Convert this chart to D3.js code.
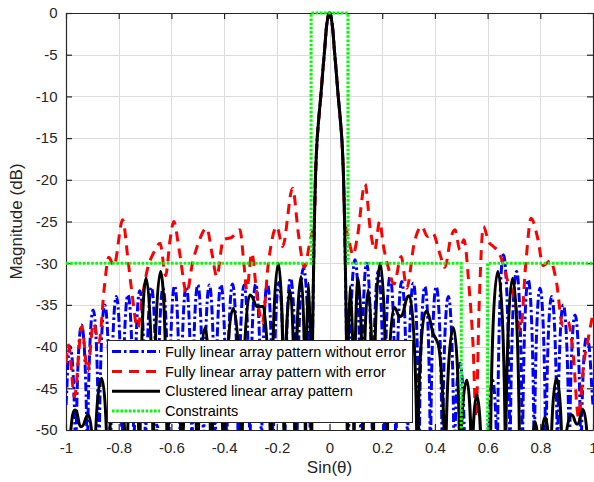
<!DOCTYPE html>
<html>
<head>
<meta charset="utf-8">
<script src="https://cdn.jsdelivr.net/npm/d3@7"></script>
<style>
  html, body { margin: 0; padding: 0; background: #fff; }
  svg { display: block; font-family: "Liberation Sans", Arial, Helvetica, sans-serif; }
</style>
</head>
<body>
<svg id="chart" width="594" height="482"></svg>
<script>
// ---------- axis ticks ----------
const xTicks = [-1, -0.8, -0.6, -0.4, -0.2, 0, 0.2, 0.4, 0.6, 0.8, 1];
const xTickLabels = ["-1", "-0.8", "-0.6", "-0.4", "-0.2", "0", "0.2", "0.4", "0.6", "0.8", "1"];
const yTicks = [0, -5, -10, -15, -20, -25, -30, -35, -40, -45, -50];
const yTickLabels = ["0", "-5", "-10", "-15", "-20", "-25", "-30", "-35", "-40", "-45", "-50"];

// ---------- series: [sin(theta), magnitude in dB] ----------
// main lobe shared by the patterns
const mainBeam = [
  [-0.063, -36], [-0.060, -30], [-0.057, -24.5], [-0.053, -19.5], [-0.047, -15.2],
  [-0.040, -12.4], [-0.032, -9.6], [-0.026, -7.2], [-0.019, -4.6], [-0.010, -1.3],
  [0, 0], [0.010, -1.3], [0.019, -4.6], [0.026, -7.2], [0.032, -9.6], [0.040, -12.4],
  [0.047, -15.2], [0.053, -19.5], [0.057, -24.5], [0.060, -30], [0.063, -36]
];

// fully linear array, no error
const blueLeft = [
  [-1.000, -47], [-0.985, -40.0], [-0.963, -60], [-0.941, -37.4], [-0.919, -60], [-0.897, -35.6],
  [-0.875, -60], [-0.853, -35.0], [-0.831, -60], [-0.809, -34.0], [-0.787, -60], [-0.765, -33.8],
  [-0.742, -60], [-0.720, -33.3], [-0.698, -60], [-0.676, -32.9], [-0.654, -60], [-0.632, -33.0],
  [-0.610, -60], [-0.588, -32.7], [-0.566, -60], [-0.544, -32.8], [-0.522, -60], [-0.500, -32.6],
  [-0.478, -60], [-0.456, -32.6], [-0.434, -60], [-0.412, -32.6], [-0.390, -60], [-0.368, -32.5],
  [-0.346, -60], [-0.324, -32.6], [-0.302, -60], [-0.280, -32.5], [-0.258, -60], [-0.236, -32.4],
  [-0.214, -60], [-0.192, -32.3], [-0.170, -60], [-0.148, -31.8], [-0.124, -60], [-0.099, -30.6],
  [-0.072, -60]
];
const blueRight = [
  [0.072, -60], [0.097, -29.6], [0.119, -60], [0.141, -30.0], [0.163, -60], [0.185, -31.0],
  [0.207, -60], [0.230, -31.6], [0.252, -60], [0.274, -32.2], [0.296, -60], [0.318, -32.4],
  [0.340, -60], [0.362, -32.8], [0.383, -60], [0.405, -32.8], [0.428, -60], [0.451, -34.0],
  [0.473, -60], [0.495, -42.0], [0.517, -66], [0.540, -58], [0.562, -66], [0.585, -58],
  [0.600, -66], [0.618, -44], [0.637, -60], [0.660, -29.0], [0.685, -60], [0.710, -31.0],
  [0.732, -60], [0.754, -32.0], [0.777, -60], [0.799, -33.0], [0.821, -60], [0.843, -34.0],
  [0.865, -60], [0.887, -35.0], [0.910, -60], [0.932, -36.2], [0.954, -60], [0.976, -38.8],
  [1.000, -47]
];

// fully linear array with error
const redLeft = [
  [-1.000, -42.0], [-0.990, -39.8], [-0.968, -46.0], [-0.940, -37.6], [-0.918, -43.0], [-0.896, -37.2],
  [-0.875, -39.5], [-0.855, -33.0], [-0.838, -29.3], [-0.818, -30.3], [-0.785, -24.8], [-0.765, -29.5],
  [-0.750, -33.5], [-0.728, -37.8], [-0.710, -34.0], [-0.693, -31.0], [-0.665, -28.6], [-0.643, -27.6],
  [-0.622, -31.5], [-0.605, -27.2], [-0.591, -25.0], [-0.570, -28.5], [-0.542, -33.6], [-0.520, -30.0],
  [-0.498, -27.6], [-0.466, -25.8], [-0.445, -29.0], [-0.428, -31.6], [-0.403, -27.2], [-0.371, -26.9],
  [-0.340, -26.0], [-0.325, -30.0], [-0.314, -33.2], [-0.295, -28.8], [-0.275, -34.0], [-0.255, -37.2],
  [-0.232, -30.0], [-0.200, -25.6], [-0.178, -28.0], [-0.140, -21.0], [-0.118, -26.5], [-0.095, -30.5],
  [-0.075, -27.5]
];
const redRight = [
  [0.072, -27.0], [0.090, -29.0], [0.105, -27.0], [0.135, -20.5], [0.155, -26.0], [0.172, -28.4],
  [0.190, -25.0], [0.205, -28.0], [0.223, -30.5], [0.245, -32.5], [0.272, -29.2], [0.293, -33.0],
  [0.322, -27.5], [0.350, -25.6], [0.372, -26.8], [0.392, -26.4], [0.418, -28.8], [0.438, -30.5],
  [0.460, -27.0], [0.476, -26.0], [0.495, -28.4], [0.510, -27.2], [0.530, -33.0], [0.545, -40.0],
  [0.556, -48.5], [0.568, -35.0], [0.584, -25.6], [0.605, -27.5], [0.622, -28.0], [0.640, -28.6],
  [0.653, -29.5], [0.675, -32.0], [0.700, -34.0], [0.725, -38.0], [0.745, -30.0], [0.765, -24.6],
  [0.790, -27.0], [0.811, -30.3], [0.838, -29.7], [0.862, -32.4], [0.885, -37.5], [0.905, -37.0],
  [0.925, -41.0], [0.945, -48.5], [0.965, -42.0], [0.982, -39.0], [1.000, -36.0]
];

// clustered linear array
const blackLeft = [
  [-1.000, -60], [-0.985, -51], [-0.966, -47.6], [-0.942, -49.6], [-0.915, -48.2], [-0.893, -60],
  [-0.865, -43.8], [-0.842, -60], [-0.805, -44], [-0.770, -60], [-0.745, -42], [-0.720, -60],
  [-0.696, -31.8], [-0.669, -60], [-0.641, -31.0], [-0.616, -60], [-0.590, -41], [-0.560, -60],
  [-0.530, -42], [-0.500, -60], [-0.472, -37.7], [-0.450, -60], [-0.425, -44], [-0.400, -60],
  [-0.365, -35.4], [-0.333, -60], [-0.302, -33.8], [-0.276, -35.2], [-0.251, -35.2], [-0.222, -60],
  [-0.194, -30.0], [-0.172, -60], [-0.150, -33.2], [-0.131, -60], [-0.108, -31.6], [-0.091, -60],
  [-0.080, -32.4], [-0.068, -60]
];
const blackRight = [
  [0.068, -60], [0.078, -32.8], [0.093, -60], [0.109, -31.8], [0.127, -60], [0.147, -33.2],
  [0.166, -60], [0.192, -30.0], [0.218, -60], [0.245, -35.3], [0.268, -36.4], [0.303, -33.9],
  [0.333, -60], [0.365, -35.8], [0.394, -38.5], [0.413, -39.8], [0.440, -60], [0.470, -37.7],
  [0.495, -60], [0.521, -44.0], [0.540, -60], [0.559, -45.8], [0.578, -60], [0.596, -56],
  [0.610, -60], [0.639, -31.0], [0.668, -60], [0.695, -31.8], [0.722, -60], [0.750, -56],
  [0.765, -60], [0.780, -49.0], [0.798, -60], [0.818, -48.4], [0.838, -60], [0.862, -43.8],
  [0.884, -60], [0.919, -48.2], [0.940, -49.3], [0.963, -47.6], [0.985, -60], [1.000, -56]
];

// side-lobe / main-lobe mask
const constraint = [
  [-1, -30], [-0.07, -30], [-0.07, 0], [0.07, 0], [0.07, -30], [0.5, -30], [0.5, -60],
  [0.6, -60], [0.6, -30], [1, -30]
];

const legendLabels = [
  "Fully linear array pattern without error",
  "Fully linear array pattern with error",
  "Clustered linear array pattern",
  "Constraints"
];

// ---------- layout ----------
const L = 66, R = 593, T = 13, B = 430;
const axisColor = "#262626";

const svg = d3.select("#chart");
const x = d3.scaleLinear().domain([-1, 1]).range([L, R]);
const y = d3.scaleLinear().domain([-50, 0]).range([B, T]);

// Curve for array-factor lobes: round tops at local maxima, vertical
// cusps at nulls that fall below the axis floor, monotone elsewhere.
function lobeCurve(context) {
  let pts = [];
  const K = 0.55;
  const floorPx = y(-50);
  return {
    areaStart() {}, areaEnd() {},
    lineStart() { pts = []; },
    point(px, py) { pts.push([+px, +py]); },
    lineEnd() {
      const n = pts.length;
      if (!n) return;
      const kind = [], slope = [];
      for (let i = 0; i < n; i++) {
        const p = pts[i], a = pts[i - 1], b = pts[i + 1];
        if (!a || !b) {
          const q = a || b;
          kind.push("slope");
          slope.push(q ? (p[1] - q[1]) / (p[0] - q[0]) : 0);
          continue;
        }
        const s0 = (p[1] - a[1]) / (p[0] - a[0]);
        const s1 = (b[1] - p[1]) / (b[0] - p[0]);
        if (p[1] < a[1] && p[1] < b[1]) { kind.push("flat"); slope.push(0); }
        else if (p[1] > a[1] && p[1] > b[1]) { kind.push(p[1] > floorPx ? "cusp" : "flat"); slope.push(0); }
        else { kind.push("slope"); slope.push(s0 * s1 <= 0 ? 0 : 2 * s0 * s1 / (s0 + s1)); }
      }
      context.moveTo(pts[0][0], pts[0][1]);
      for (let i = 0; i < n - 1; i++) {
        const a = pts[i], b = pts[i + 1];
        const dx = b[0] - a[0], dy = b[1] - a[1];
        let c1, c2;
        if (kind[i] === "flat") c1 = [a[0] + K * dx, a[1]];
        else if (kind[i] === "cusp") c1 = [a[0], a[1] + K * dy];
        else c1 = [a[0] + dx / 3, a[1] + slope[i] * dx / 3];
        if (kind[i + 1] === "flat") c2 = [b[0] - K * dx, b[1]];
        else if (kind[i + 1] === "cusp") c2 = [b[0], b[1] - K * dy];
        else c2 = [b[0] - dx / 3, b[1] - slope[i + 1] * dx / 3];
        context.bezierCurveTo(c1[0], c1[1], c2[0], c2[1], b[0], b[1]);
      }
    }
  };
}

// grid
const grid = svg.append("g").attr("stroke", "#dcdcdc").attr("stroke-width", 1);
grid.selectAll("line.gx").data(xTicks.slice(1, -1)).join("line")
  .attr("x1", d => Math.round(x(d)) + 0.5).attr("x2", d => Math.round(x(d)) + 0.5)
  .attr("y1", T).attr("y2", B);
grid.selectAll("line.gy").data(yTicks.slice(1, -1)).join("line")
  .attr("y1", d => Math.round(y(d)) + 0.5).attr("y2", d => Math.round(y(d)) + 0.5)
  .attr("x1", L).attr("x2", R);

// axes (ticks pointing inward on all four sides)
function styleAxis(g) {
  g.selectAll("path.domain").attr("stroke", axisColor).attr("stroke-width", 1.2);
  g.selectAll(".tick line").attr("stroke", axisColor).attr("stroke-width", 1.2);
  g.selectAll(".tick text").attr("fill", axisColor).attr("font-size", 15)
    .attr("font-family", "'Liberation Sans', Arial, sans-serif");
}
svg.append("g").attr("transform", `translate(0,${B})`)
  .call(d3.axisBottom(x).tickValues(xTicks).tickFormat((d, i) => xTickLabels[i])
    .tickSizeInner(-6).tickSizeOuter(0).tickPadding(12))
  .call(styleAxis);
svg.append("g").attr("transform", `translate(0,${T})`)
  .call(d3.axisTop(x).tickValues(xTicks).tickFormat(() => "")
    .tickSizeInner(-6).tickSizeOuter(0))
  .call(styleAxis);
svg.append("g").attr("transform", `translate(${L},0)`)
  .call(d3.axisLeft(y).tickValues(yTicks).tickFormat((d, i) => yTickLabels[i])
    .tickSizeInner(-6).tickSizeOuter(0).tickPadding(8.5))
  .call(styleAxis);
svg.append("g").attr("transform", `translate(${R},0)`)
  .call(d3.axisRight(y).tickValues(yTicks).tickFormat(() => "")
    .tickSizeInner(-6).tickSizeOuter(0))
  .call(styleAxis);
svg.selectAll(".domain").attr("fill", "none");

// axis titles
svg.append("text").attr("x", (L + R) / 2).attr("y", 473)
  .attr("text-anchor", "middle").attr("font-size", 17).attr("fill", axisColor)
  .text("Sin(θ)");
svg.append("text").attr("transform", `translate(22,${(T + B) / 2}) rotate(-90)`)
  .attr("text-anchor", "middle").attr("font-size", 17).attr("fill", axisColor)
  .text("Magnitude (dB)");

// clip to the plot box (a little headroom for the mask on the 0 dB line)
svg.append("defs").append("clipPath").attr("id", "plotClip")
  .append("rect").attr("x", L).attr("y", T - 3).attr("width", R - L).attr("height", B - T + 3);

const plot = svg.append("g").attr("clip-path", "url(#plotClip)");
const lobes = d3.line().x(d => x(d[0])).y(d => y(d[1])).curve(lobeCurve);
const smooth = d3.line().x(d => x(d[0])).y(d => y(d[1])).curve(d3.curveMonotoneX);
const straight = d3.line().x(d => x(d[0])).y(d => y(d[1]));

const blue = blueLeft.concat(mainBeam, blueRight);
const red = redLeft.concat(mainBeam.filter(d => d[1] > -27), redRight);
const black = blackLeft.concat(mainBeam, blackRight);

const styles = [
  { color: "#0000ff", dash: "9,3,2.5,3", width: 3 },
  { color: "#ff0000", dash: "10,7", width: 3 },
  { color: "#000000", dash: null, width: 3 },
  { color: "#00ff00", dash: "2.6,1.6", width: 3 }
];

plot.append("path").attr("d", lobes(blue)).attr("fill", "none")
  .attr("stroke", styles[0].color).attr("stroke-width", styles[0].width)
  .attr("stroke-dasharray", styles[0].dash);
plot.append("path").attr("d", smooth(red)).attr("fill", "none")
  .attr("stroke", styles[1].color).attr("stroke-width", styles[1].width)
  .attr("stroke-dasharray", styles[1].dash);
plot.append("path").attr("d", lobes(black)).attr("fill", "none")
  .attr("stroke", styles[2].color).attr("stroke-width", styles[2].width)
  .attr("stroke-linejoin", "round");
plot.append("path").attr("d", straight(constraint)).attr("fill", "none")
  .attr("stroke", styles[3].color).attr("stroke-width", styles[3].width)
  .attr("stroke-dasharray", styles[3].dash);

// legend
const lg = svg.append("g").attr("transform", "translate(107,340)");
lg.append("rect").attr("x", 0.5).attr("y", 0.5).attr("width", 305).attr("height", 82)
  .attr("fill", "#fff").attr("stroke", axisColor).attr("stroke-width", 1);
const rowY = [11.5, 31.5, 51.3, 71];
legendLabels.forEach((lab, i) => {
  lg.append("line").attr("x1", 5).attr("x2", 53).attr("y1", rowY[i]).attr("y2", rowY[i])
    .attr("stroke", styles[i].color).attr("stroke-width", styles[i].width)
    .attr("stroke-dasharray", styles[i].dash);
  lg.append("text").attr("x", 58).attr("y", rowY[i]).attr("dy", "0.35em")
    .attr("font-size", 14.5).attr("fill", "#000").text(lab);
});
</script>
</body>
</html>
